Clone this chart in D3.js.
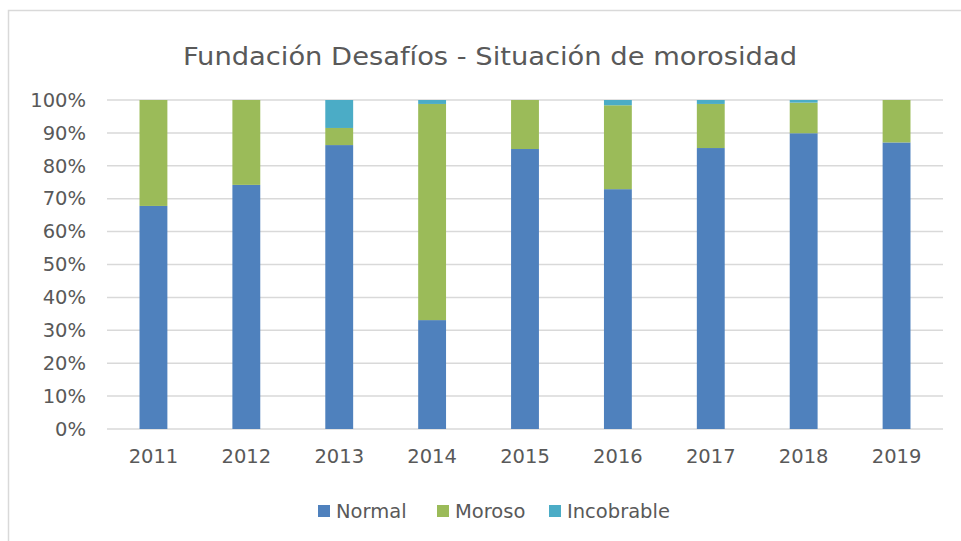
<!DOCTYPE html>
<html>
<head>
<meta charset="utf-8">
<script src="https://cdn.jsdelivr.net/npm/d3@7"></script>
<style>
  body { margin: 0; background: #fff; }
  svg { display: block; }
</style>
</head>
<body>
<div id="graf"></div>
<script>
// datos (porcentajes)
anios = ['2011', '2012', '2013', '2014', '2015', '2016', '2017', '2018', '2019']
normal = [67.8, 74.2, 86.3, 33.1, 85.1, 72.9, 85.4, 89.9, 87.1]
moroso = [32.2, 25.8, 5.2, 65.7, 14.9, 25.5, 13.4, 9.3, 12.9]
incobrable = [0, 0, 8.5, 1.2, 0, 1.6, 1.2, 0.8, 0]
series = ['Normal', 'Moroso', 'Incobrable']
colores = ['#4F81BD', '#9BBB59', '#4BACC6']
ticksY = [0, 10, 20, 30, 40, 50, 60, 70, 80, 90, 100]

ancho_total = 961
alto_total = 541
margins = { top: 100, left: 107, right: 18, bottom: 112 }
ancho = ancho_total - margins.left - margins.right
alto = alto_total - margins.top - margins.bottom

fuente = '"DejaVu Sans", "Liberation Sans", sans-serif'

svg = d3.select('#graf').append('svg')
  .attr('width', ancho_total)
  .attr('height', alto_total)

// marco del grafico
svg.append('rect')
  .attr('x', 8.5).attr('y', 10.5)
  .attr('width', 1000).attr('height', 1000)
  .attr('fill', '#fff')
  .attr('stroke', '#D9D9D9')
  .attr('stroke-width', 1.5)

// titulo
svg.append('text')
  .attr('x', 183)
  .attr('y', 65)
  .attr('textLength', 614)
  .attr('lengthAdjust', 'spacingAndGlyphs')
  .style('font-family', '"DejaVu Sans Condensed", "Roboto", sans-serif')
  .style('font-size', '25px')
  .attr('fill', '#595959')
  .text('Fundación Desafíos - Situación de morosidad')

g = svg.append('g')
  .attr('transform', `translate(${margins.left}, ${margins.top})`)

// escalas
x = d3.scaleBand().domain(anios).range([0, ancho]).paddingInner(0.7).paddingOuter(0.35)
y = d3.scaleLinear().domain([0, 100]).range([alto, 0])
color = d3.scaleOrdinal().domain(series).range(colores)

// lineas de cuadricula
g.selectAll('line.grid')
  .data(ticksY)
  .enter().append('line')
  .attr('class', 'grid')
  .attr('x1', 0).attr('x2', ancho)
  .attr('y1', d => y(d)).attr('y2', d => y(d))
  .attr('stroke', '#D9D9D9')
  .attr('stroke-width', 1.5)

// eje y
yAxis = g.append('g')
  .call(d3.axisLeft(y).tickValues(ticksY).tickFormat(d => d + '%').tickSize(0).tickPadding(21))
yAxis.select('.domain').remove()
yAxis.selectAll('text')
  .style('font-family', fuente)
  .style('font-size', '19.5px')
  .attr('fill', '#595959')

// eje x
xAxis = g.append('g')
  .attr('transform', `translate(0, ${alto})`)
  .call(d3.axisBottom(x).tickSize(0).tickPadding(20))
xAxis.select('.domain').remove()
xAxis.selectAll('text')
  .style('font-family', fuente)
  .style('font-size', '19.5px')
  .attr('fill', '#595959')

// apilar datos
tabla = anios.map((a, i) => ({ anio: a, Normal: normal[i], Moroso: moroso[i], Incobrable: incobrable[i] }))
stack = d3.stack().keys(series)(tabla)

g.selectAll('g.serie')
  .data(stack)
  .enter().append('g')
  .attr('class', 'serie')
  .attr('fill', d => color(d.key))
  .selectAll('rect')
  .data(d => d)
  .enter().append('rect')
  .attr('x', d => x(d.data.anio))
  .attr('y', d => y(d[1]))
  .attr('width', x.bandwidth())
  .attr('height', d => y(d[0]) - y(d[1]))

// leyenda
leyX = [318, 437, 549]
leyenda = svg.append('g')
series.forEach((s, i) => {
  leyenda.append('rect')
    .attr('x', leyX[i]).attr('y', 505)
    .attr('width', 12).attr('height', 12)
    .attr('fill', color(s))
  leyenda.append('text')
    .attr('x', leyX[i] + 18).attr('y', 518)
    .style('font-family', fuente)
    .style('font-size', '19.5px')
    .attr('fill', '#595959')
    .text(s)
})
</script>
</body>
</html>
